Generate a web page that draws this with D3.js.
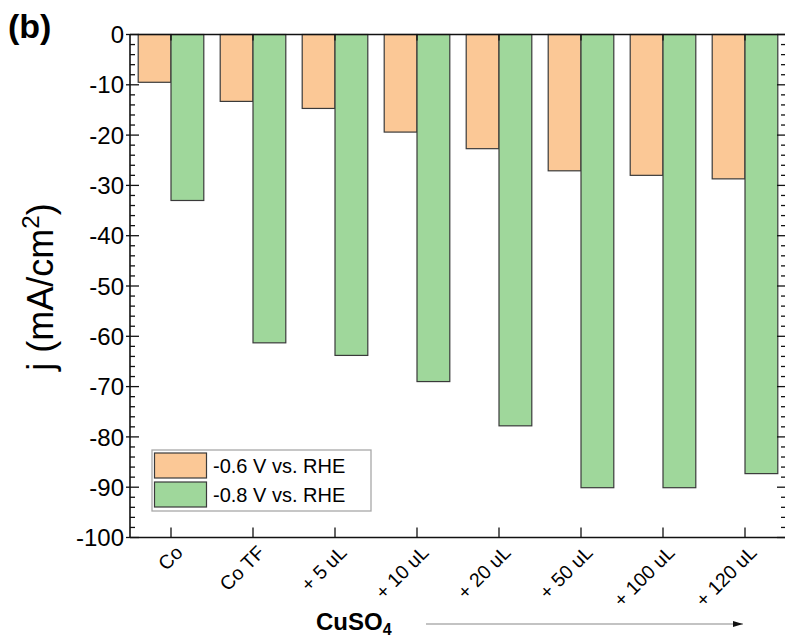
<!DOCTYPE html>
<html>
<head>
<meta charset="utf-8">
<script src="https://cdn.jsdelivr.net/npm/d3@7"></script>
<style>
  html, body { margin: 0; padding: 0; background: #fff; }
  svg { display: block; font-family: "Liberation Sans", Arial, sans-serif; }
</style>
</head>
<body>
<svg id="chart" width="785" height="639"></svg>
<script>
// Samples: bare Co, Co thin film, then increasing CuSO4 additions
const categories = ["Co", "Co TF", "+ 5 uL", "+ 10 uL", "+ 20 uL", "+ 50 uL", "+ 100 uL", "+ 120 uL"];
// Current density (mA/cm²) at each potential
const seriesNames = ["-0.6 V vs. RHE", "-0.8 V vs. RHE"];
const j06 = [-9.5, -13.3, -14.7, -19.4, -22.7, -27.1, -28.0, -28.7];
const j08 = [-33.0, -61.3, -63.8, -69.0, -77.8, -90.1, -90.1, -87.3];
const yTicks = [0, -10, -20, -30, -40, -50, -60, -70, -80, -90, -100];
const colors = ["#FBC896", "#9FD79B"];

const svg = d3.select("#chart");
const plotL = 130, plotR = 786, plotT = 34.5, plotB = 537.5;

const x = d3.scaleBand().domain(categories).range([plotL, plotR])
  .paddingInner(0.2).paddingOuter(0.1);
const xSub = d3.scaleBand().domain([0, 1]).range([0, x.bandwidth()]);
const y = d3.scaleLinear().domain([-100, 0]).range([plotB, plotT]);

const rows = categories.map((c, i) => ({ c, v: [j06[i], j08[i]] }));

// bars
const g = svg.append("g");
rows.forEach(r => {
  r.v.forEach((v, k) => {
    g.append("rect")
      .attr("x", x(r.c) + xSub(k))
      .attr("y", y(0))
      .attr("width", xSub.bandwidth())
      .attr("height", y(v) - y(0))
      .attr("fill", colors[k])
      .attr("stroke", "#3a3a3a")
      .attr("stroke-width", 1.2);
  });
});

// frame
const frame = svg.append("g").attr("stroke", "#111").attr("fill", "none").attr("stroke-width", 1.6);
frame.append("line").attr("x1", plotL).attr("x2", plotR).attr("y1", plotT).attr("y2", plotT);
frame.append("line").attr("x1", plotL).attr("x2", plotR).attr("y1", plotB).attr("y2", plotB);
frame.append("line").attr("x1", plotL).attr("x2", plotL).attr("y1", plotT).attr("y2", plotB);
frame.append("line").attr("x1", plotR).attr("x2", plotR).attr("y1", plotT).attr("y2", plotB);

// y ticks (major + minor, pointing inward) on left and right
const minor = d3.range(-100, 0.01, 2).filter(v => v % 10 !== 0);
const tk = svg.append("g").attr("stroke", "#111").attr("stroke-width", 1.3);
yTicks.forEach(v => {
  tk.append("line").attr("x1", plotL - 4).attr("x2", plotL + 9).attr("y1", y(v)).attr("y2", y(v));
  tk.append("line").attr("x1", plotR + 4).attr("x2", plotR - 9).attr("y1", y(v)).attr("y2", y(v));
});
minor.forEach(v => {
  tk.append("line").attr("x1", plotL).attr("x2", plotL + 5).attr("y1", y(v)).attr("y2", y(v));
  tk.append("line").attr("x1", plotR).attr("x2", plotR - 5).attr("y1", y(v)).attr("y2", y(v));
});
// x ticks at category centres, top and bottom
categories.forEach(c => {
  const cx = x(c) + x.bandwidth() / 2;
  tk.append("line").attr("x1", cx).attr("x2", cx).attr("y1", plotB).attr("y2", plotB - 10);
  tk.append("line").attr("x1", cx).attr("x2", cx).attr("y1", plotT).attr("y2", plotT + 6);
});

// y tick labels
svg.append("g").selectAll("text").data(yTicks).join("text")
  .attr("x", plotL - 6).attr("y", d => y(d)).attr("dy", "0.36em")
  .attr("text-anchor", "end").attr("font-size", 24).attr("fill", "#000")
  .text(d => d);

// x tick labels, rotated
svg.append("g").selectAll("text").data(categories).join("text")
  .attr("transform", d => `translate(${x(d) + x.bandwidth() / 2 + 8},${plotB + 11.5}) rotate(-45)`)
  .attr("dy", "0.35em").attr("text-anchor", "end")
  .attr("font-size", 19.5).attr("fill", "#000")
  .text(d => d);

// y axis title
const yt = svg.append("text")
  .attr("transform", `translate(53,287) rotate(-90)`)
  .attr("text-anchor", "middle").attr("font-size", 36).attr("fill", "#000");
yt.append("tspan").text("j (mA/cm");
yt.append("tspan").attr("font-size", 24).attr("dy", "-0.6em").text("2");
yt.append("tspan").attr("dy", "0.4em").text(")");

// panel label
svg.append("text").attr("x", 8).attr("y", 38).attr("font-size", 34)
  .attr("font-weight", "bold").text("(b)");

// x axis title with arrow
const xt = svg.append("text").attr("x", 316).attr("y", 630)
  .attr("font-size", 24).attr("font-weight", "bold").attr("fill", "#000");
xt.append("tspan").text("CuSO");
xt.append("tspan").attr("font-size", 16).attr("dy", "0.3em").text("4");

svg.append("defs").append("marker")
  .attr("id", "arrow").attr("viewBox", "0 0 10 6").attr("refX", 10).attr("refY", 3)
  .attr("markerWidth", 10).attr("markerHeight", 6).attr("markerUnits", "userSpaceOnUse")
  .attr("orient", "auto")
  .append("path").attr("d", "M0,0 L10,3 L0,6 Z").attr("fill", "#111");
svg.append("line").attr("x1", 426).attr("x2", 743).attr("y1", 624).attr("y2", 624)
  .attr("stroke", "#888").attr("stroke-width", 1.2).attr("marker-end", "url(#arrow)");

// legend
const lg = svg.append("g");
lg.append("rect").attr("x", 152).attr("y", 450).attr("width", 219).attr("height", 61)
  .attr("fill", "#fff").attr("stroke", "#a8a8a8").attr("stroke-width", 1.3);
seriesNames.forEach((n, k) => {
  const yy = 453 + k * 29;
  lg.append("rect").attr("x", 154.5).attr("y", yy).attr("width", 52).attr("height", 25)
    .attr("fill", colors[k]).attr("stroke", "#3a3a3a").attr("stroke-width", 1.2);
  lg.append("text").attr("x", 213).attr("y", yy + 12.5).attr("dy", "0.36em")
    .attr("font-size", 20).attr("fill", "#000").text(n);
});
</script>
</body>
</html>
